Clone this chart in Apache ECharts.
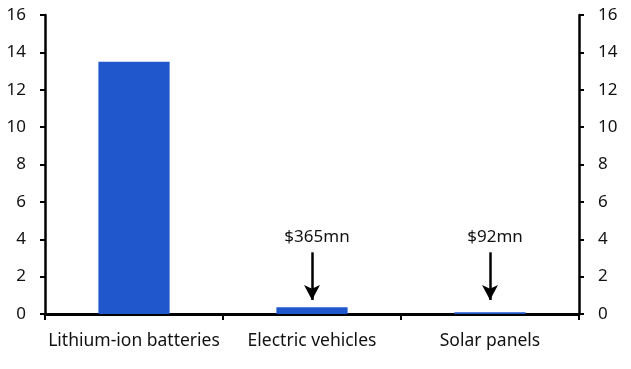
<!DOCTYPE html>
<html><head><meta charset="utf-8">
<script src="https://cdn.jsdelivr.net/npm/echarts@6/dist/echarts.min.js"></script>
<style>html,body{margin:0;padding:0;background:#fff}#c{width:631px;height:369px}</style>
</head><body><div id="c"></div>
<script>
var categories = ['Lithium-ion batteries', 'Electric vehicles', 'Solar panels'];
var values = [13.5, 0.365, 0.092];
var annotationTexts = ['', '$365mn', '$92mn'];
var annotationLabelValue = 4.1;
var arrowTop = 3.3;
var arrowBottom = 0.75;
var yTicks = {min: 0, max: 16, interval: 2};

var FONT = 'Noto Sans';
var chart = echarts.init(document.getElementById('c'), null, {renderer: 'canvas'});

var markLines = [];
var markPoints = [];
categories.forEach(function (c, i) {
  if (!annotationTexts[i]) return;
  markLines.push([{coord: [c, arrowTop]}, {coord: [c, arrowBottom]}]);
  markPoints.push({coord: [c, annotationLabelValue], value: annotationTexts[i]});
});

function yAxis(pos) {
  return {
    type: 'value', position: pos, min: yTicks.min, max: yTicks.max, interval: yTicks.interval,
    splitLine: {show: false},
    axisLine: {show: true, onZero: false, lineStyle: {color: '#000', width: 2.5}},
    axisTick: {show: true, length: 5, lineStyle: {color: '#000', width: 2}},
    axisLabel: {color: '#111', fontFamily: FONT, fontSize: 17, margin: 19}
  };
}

chart.setOption({
  animation: false,
  grid: {left: 45, right: 52, top: 15, bottom: 55, containLabel: false},
  xAxis: {
    type: 'category', data: categories, boundaryGap: true,
    axisLine: {lineStyle: {color: '#000', width: 3}},
    axisTick: {show: true, length: 6, alignWithLabel: false, lineStyle: {color: '#000', width: 2}},
    axisLabel: {color: '#111', fontFamily: FONT, fontSize: 17.5, margin: 18, interval: 0}
  },
  yAxis: [yAxis('left'), yAxis('right')],
  series: [{
    type: 'bar', data: values, barWidth: '40%',
    itemStyle: {color: '#2057CC'},
    markLine: {
      silent: true, symbol: ['none', 'arrow'], symbolSize: [12, 15],
      lineStyle: {color: '#000', width: 2.5, type: 'solid'},
      label: {show: false},
      data: markLines
    },
    markPoint: {
      silent: true, symbol: 'circle', symbolSize: 0,
      label: {show: true, formatter: function (p) { return p.value; }, color: '#111', fontFamily: FONT, fontSize: 17, offset: [5, 0]},
      data: markPoints
    }
  }]
});
</script></body></html>
